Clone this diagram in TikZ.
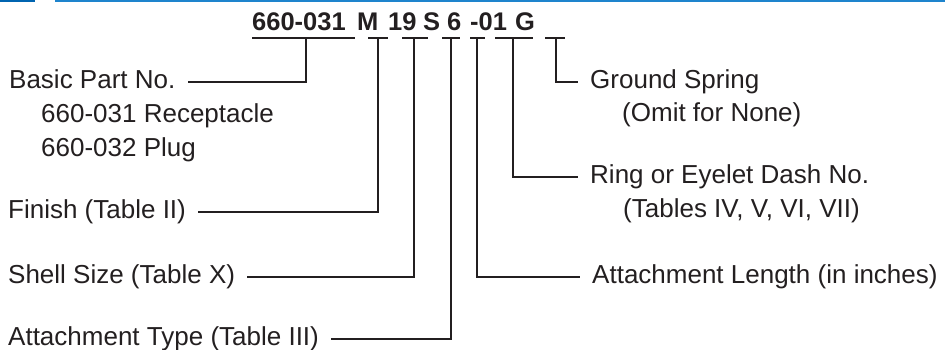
\documentclass[tikz,border=0pt]{standalone}
\usepackage{fontspec}
\setmainfont{Liberation Sans}
\usepackage{tikz}
\usetikzlibrary{positioning}
\definecolor{ink}{RGB}{35,31,32}
\definecolor{topblue}{RGB}{30,132,205}
\definecolor{topbluedark}{RGB}{0,100,176}

\begin{document}
\begin{tikzpicture}[x=1pt, y=1pt,
    lead/.style={draw=ink, line width=1.9pt},
    lbl/.style={anchor=base west, text=ink, inner xsep=12pt, inner ysep=0pt,
        text height=14pt, text depth=0pt, font=\fontsize{26}{30}\selectfont},
    part/.style={anchor=base west, text=ink, inner sep=0pt,
        font=\fontsize{25.5}{28}\selectfont\bfseries}]
  \useasboundingbox (0,0) rectangle (945,350);

  % blue rule along the top edge
  \fill[topbluedark] (0,348) rectangle (35,350);
  \fill[topblue] (55,348) rectangle (945,350);

  % the part number, one piece at a time
  \node[part] (pbasic)  at (252,319) {660-031};
  \node[part] (pfinish) at (357,319) {M};
  \node[part] (pshell)  at (388,319) {19};
  \node[part] (ptype)   at (423,319) {S};
  \node[part] (plength) at (447,319) {6};
  \node[part] (pring)   at (470,319) {-01};
  \node[part] (pground) at (515,319) {G};

  % underlines below the pieces, with the tap point of each
  \draw[lead] (252,312) -- (355,312);  \coordinate (tbasic)  at (306,312);
  \draw[lead] (368,312) -- (388,312);  \coordinate (tfinish) at (378,312);
  \draw[lead] (402,312) -- (428,312);  \coordinate (tshell)  at (414,312);
  \draw[lead] (442,312) -- (460,312);  \coordinate (ttype)   at (451,312);
  \draw[lead] (470,312) -- (485,312);  \coordinate (tlength) at (477,312);
  \draw[lead] (495,312) -- (533,312);  \coordinate (tring)   at (513,312);
  \draw[lead] (545,312) -- (565,312);  \coordinate (tground) at (556,312);

  % left-hand labels
  \node[lbl] (basic)  at (-3,261) {Basic Part No.};
  \node[lbl] (recept) at (29,227) {660-031 Receptacle};
  \node[lbl] (plug)   at (29,193) {660-032 Plug};
  \node[lbl] (finish) at (-4,131) {Finish (Table II)};
  \node[lbl] (shell)  at (-4,66)  {Shell Size (Table X)};
  \node[lbl] (type)   at (-4,4)   {Attachment Type (Table III)};

  % right-hand labels
  \node[lbl] (ground) at (578,261) {Ground Spring};
  \node[lbl] (omit)   at (610,228) {(Omit for None)};
  \node[lbl] (ring)   at (578,166) {Ring or Eyelet Dash No.};
  \node[lbl] (tables) at (611,132) {(Tables IV, V, VI, VII)};
  \node[lbl] (length) at (580,66)  {Attachment Length (in inches)};

  % leaders from each piece to its label
  \draw[lead] (tbasic)  |- (basic.east);
  \draw[lead] (tfinish) |- (finish.east);
  \draw[lead] (tshell)  |- (shell.east);
  \draw[lead] (ttype)   |- (type.east);
  \draw[lead] (tlength) |- (length.west);
  \draw[lead] (tring)   |- (ring.west);
  \draw[lead] (tground) |- (ground.west);
\end{tikzpicture}
\end{document}
